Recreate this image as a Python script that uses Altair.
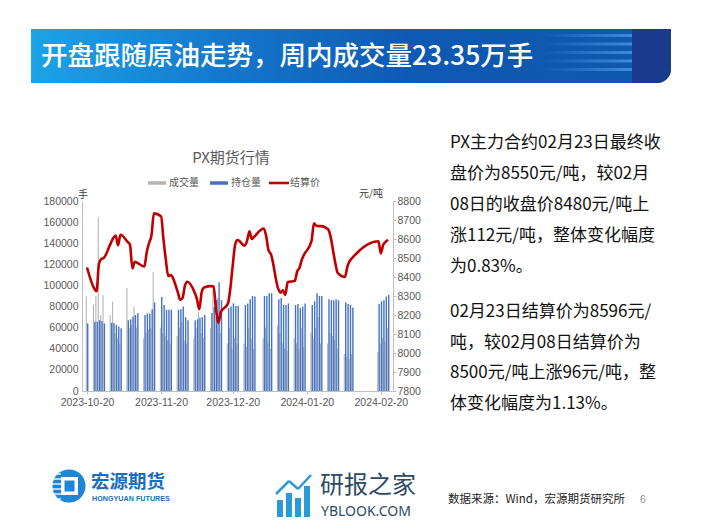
import altair as alt
import pandas as pd

# ---------------- data ----------------
dates = [
    "2023-10-20",
    "2023-10-23", "2023-10-24", "2023-10-25", "2023-10-26", "2023-10-27",
    "2023-10-30", "2023-10-31", "2023-11-01", "2023-11-02", "2023-11-03",
    "2023-11-06", "2023-11-07", "2023-11-08", "2023-11-09", "2023-11-10",
    "2023-11-13", "2023-11-14", "2023-11-15", "2023-11-16", "2023-11-17",
    "2023-11-20", "2023-11-21", "2023-11-22", "2023-11-23", "2023-11-24",
    "2023-11-27", "2023-11-28", "2023-11-29", "2023-11-30", "2023-12-01",
    "2023-12-04", "2023-12-05", "2023-12-06", "2023-12-07", "2023-12-08",
    "2023-12-11", "2023-12-12", "2023-12-13", "2023-12-14", "2023-12-15",
    "2023-12-18", "2023-12-19", "2023-12-20", "2023-12-21", "2023-12-22",
    "2023-12-25", "2023-12-26", "2023-12-27", "2023-12-28", "2023-12-29",
    "2024-01-02", "2024-01-03", "2024-01-04", "2024-01-05",
    "2024-01-08", "2024-01-09", "2024-01-10", "2024-01-11", "2024-01-12",
    "2024-01-15", "2024-01-16", "2024-01-17", "2024-01-18", "2024-01-19",
    "2024-01-22", "2024-01-23", "2024-01-24", "2024-01-25", "2024-01-26",
    "2024-01-29", "2024-01-30", "2024-01-31", "2024-02-01", "2024-02-02",
    "2024-02-05", "2024-02-06", "2024-02-07", "2024-02-08",
    "2024-02-19", "2024-02-20", "2024-02-21", "2024-02-22", "2024-02-23",
]

volume = [
    89500,
    81600, 90000, 165000, 72000, 91000,
    72000, 84500, 55000, 50000, 45000,
    97500, 60000, 62000, 80000, 60000,
    50000, 55000, 58000, 60000, 113000,
    60000, 55000, 52000, 48000, 45000,
    52000, 60000, 65000, 48000, 45000,
    50000, 60000, 75000, 55000, 50000,
    60000, 95000, 70000, 88000, 55000,
    45000, 60000, 40000, 50000, 45000,
    45000, 42000, 60000, 50000, 40000,
    50000, 60000, 45000, 40000,
    62000, 55000, 45000, 40000, 38000,
    50000, 45000, 40000, 60000, 42000,
    55000, 50000, 60000, 70000, 45000,
    45000, 55000, 52000, 48000, 40000,
    35000, 32000, 30000, 35000,
    37000, 45000, 50000, 47000, 60000,
]

open_interest = [
    64000,
    65500, 65500, 67000, 66000, 64000,
    64500, 64500, 62500, 61000, 59500,
    67000, 68000, 70500, 72000, 74000,
    72000, 73500, 73500, 77500, 84000,
    89000, 81500, 77000, 77000, 77000,
    77000, 77500, 80000, 70000, 67000,
    67000, 68000, 69500, 70000, 72000,
    74000, 80000, 86000, 103000, 86000,
    78500, 80000, 83000, 80500, 80500,
    81500, 83000, 87000, 90000, 89500,
    90000, 90000, 92500, 92500,
    87000, 88000, 81500, 81500, 83000,
    81500, 82500, 78500, 80000, 83000,
    81500, 85000, 92500, 90000, 90000,
    87000, 86000, 86000, 87000, 86000,
    84000, 82500, 81500, 79000,
    82500, 85000, 86000, 89500, 91000,
]

settle = [
    8450,
    8340, 8325, 8470, 8495, 8500,
    8580, 8605, 8618, 8567, 8622,
    8585, 8570, 8445, 8480, 8475,
    8455, 8530, 8580, 8620, 8735,
    8720, 8600, 8490, 8405, 8410,
    8320, 8280, 8290, 8355, 8375,
    8320, 8285, 8230, 8320, 8345,
    8352, 8350, 8230, 8160, 8215,
    8260, 8340, 8460, 8570, 8595,
    8565, 8590, 8640, 8600, 8612,
    8655, 8615, 8540, 8520,
    8340, 8318, 8330, 8305, 8372,
    8380, 8430, 8450, 8495, 8520,
    8590, 8682, 8670, 8668, 8668,
    8650, 8610, 8540, 8470, 8420,
    8400, 8455, 8485, 8500,
    8588, 8525, 8570, 8585, 8596,
]

left_ticks = [0, 20000, 40000, 60000, 80000, 100000, 120000, 140000, 160000, 180000]
right_ticks = [7800, 7900, 8000, 8100, 8200, 8300, 8400, 8500, 8600, 8700, 8800]
x_tick_dates = [(2023, 10, 20), (2023, 11, 20), (2023, 12, 20), (2024, 1, 20), (2024, 2, 20)]

headline = "开盘跟随原油走势，周内成交量23.35万手"
chart_title = "PX期货行情"
legend_names = ["成交量", "持仓量", "结算价"]
left_unit = "手"
right_unit = "元/吨"
body_lines = [
    "PX主力合约02月23日最终收",
    "盘价为8550元/吨，较02月",
    "08日的收盘价8480元/吨上",
    "涨112元/吨，整体变化幅度",
    "为0.83%。",
    "02月23日结算价为8596元/",
    "吨，较02月08日结算价为",
    "8500元/吨上涨96元/吨，整",
    "体变化幅度为1.13%。",
]
source_text = "数据来源：Wind，宏源期货研究所"
page_no = "6"
logo_cn = "宏源期货"
logo_en = "HONGYUAN FUTURES"
wm_cn = "研报之家"
wm_en = "YBLOOK.COM"

# ---------------- layout helpers ----------------
CJK = "Noto Sans CJK SC"
NUM = "Liberation Sans"
GRAY_TXT = "#595959"
AX_LINE = "#BFBFBF"
VOL_COLOR = "#B4B4B4"
OI_COLOR = "#4472C4"
PRICE_COLOR = "#C00000"

X0, Y0 = 82, 201          # plot-area origin in page pixels
PW, PH = 311, 190         # plot area size


def px(x):
    return x - X0


def py(y):
    return y - Y0


def one():
    return alt.Data(values=[{"k": 0}])


def text_layer(s, x, y, size, color, align="left", weight="normal", font=CJK):
    return alt.Chart(alt.Data(values=[{"t": s}])).mark_text(
        align=align, baseline="middle", fontSize=size, color=color,
        fontWeight=weight, font=font,
    ).encode(x=alt.value(px(x)), y=alt.value(py(y)), text="t:N")


def rect_layer(x1, y1, x2, y2, color, **kw):
    return alt.Chart(one()).mark_rect(color=color, **kw).encode(
        x=alt.value(px(x1)), x2=alt.value(px(x2)),
        y=alt.value(py(y1)), y2=alt.value(py(y2)),
    )


def rule_layer(x1, y1, x2, y2, color, width):
    return alt.Chart(one()).mark_rule(color=color, strokeWidth=width).encode(
        x=alt.value(px(x1)), x2=alt.value(px(x2)),
        y=alt.value(py(y1)), y2=alt.value(py(y2)),
    )


# ---------------- chart ----------------
df = pd.DataFrame({"date": dates, "vol": volume, "oi": open_interest, "settle": settle})


def dt(y, m, d):
    return alt.DateTime(year=y, month=m, date=d, utc=True)


xscale = alt.Scale(type="utc", domain=[dt(2023, 10, 20), dt(2024, 2, 23)])
xaxis = alt.Axis(
    values=[dt(*t) for t in x_tick_dates], format="%Y-%m-%d", title=None,
    labelFont=NUM, labelFontSize=10.5, labelColor=GRAY_TXT, labelPadding=3,
    labelFlush=False, labelOverlap=False, labelBound=False,
    domainColor=AX_LINE, tickColor=AX_LINE, tickSize=3, grid=False,
)
laxis = alt.Axis(
    values=left_ticks, format="d", title=None, grid=False, ticks=False,
    labelPadding=4, labelFont=NUM, labelFontSize=10.5, labelColor=GRAY_TXT,
    domainColor=AX_LINE,
)
raxis = alt.Axis(
    orient="right", values=right_ticks, format="d", title=None, grid=False,
    tickSize=3, tickColor=AX_LINE, labelPadding=1, labelFont=NUM,
    labelFontSize=10.5, labelColor=GRAY_TXT, domainColor=AX_LINE,
)
lscale = alt.Scale(domain=[0, 180000], nice=False, zero=True)
rscale = alt.Scale(domain=[7800, 8800], nice=False, zero=False)

bars_vol = alt.Chart(df).mark_bar(width=1.1, xOffset=-0.7, color=VOL_COLOR).encode(
    x=alt.X("date:T", scale=xscale, axis=xaxis),
    y=alt.Y("vol:Q", scale=lscale, axis=laxis),
)
bars_oi = alt.Chart(df).mark_bar(width=1.4, xOffset=0.7, color=OI_COLOR).encode(
    x=alt.X("date:T", scale=xscale, axis=xaxis),
    y=alt.Y("oi:Q", scale=lscale, axis=laxis),
)
bars = alt.layer(bars_vol, bars_oi)

line = alt.Chart(df).mark_line(color=PRICE_COLOR, strokeWidth=2.6, interpolate="monotone").encode(
    x=alt.X("date:T", scale=xscale, axis=xaxis),
    y=alt.Y("settle:Q", scale=rscale, axis=raxis),
)

deco = []

# headline banner
banner_grad = alt.LinearGradient(
    gradient="linear", x1=0, x2=1, y1=0, y2=0,
    stops=[
        alt.GradientStop(color="#1CA3E8", offset=0),
        alt.GradientStop(color="#1478CC", offset=0.3),
        alt.GradientStop(color="#0E59B2", offset=0.6),
        alt.GradientStop(color="#1157AE", offset=1),
    ],
)
deco.append(rect_layer(31, 29, 671, 83, banner_grad, cornerRadiusBottomRight=14))
stripe_grad = alt.LinearGradient(
    gradient="linear", x1=0, x2=1, y1=0, y2=0,
    stops=[
        alt.GradientStop(color="rgba(70,150,230,0)", offset=0),
        alt.GradientStop(color="rgba(70,150,230,0.85)", offset=1),
    ],
)
for sy in [34, 42.5, 51, 59.5, 68]:
    deco.append(rect_layer(540, sy, 634, sy + 3, stripe_grad))
deco.append(rect_layer(632, 29, 671, 83, "#1A3A8E", cornerRadiusBottomRight=14))
deco.append(text_layer(headline, 41, 57, 26.5, "#FFFFFF", weight=500))

# chart title, legend and units
deco.append(text_layer(chart_title, 231, 158, 15, GRAY_TXT, align="center"))
deco.append(rule_layer(148, 183, 166, 183, VOL_COLOR, 3.5))
deco.append(text_layer(legend_names[0], 169, 183, 10, GRAY_TXT))
deco.append(rule_layer(210, 183, 228, 183, OI_COLOR, 3.5))
deco.append(text_layer(legend_names[1], 231, 183, 10, GRAY_TXT))
deco.append(rule_layer(269, 183, 289, 183, PRICE_COLOR, 2.6))
deco.append(text_layer(legend_names[2], 290, 183, 10, GRAY_TXT))
deco.append(text_layer(left_unit, 83, 195, 10, "#404040", align="center"))
deco.append(text_layer(right_unit, 371, 194, 10, "#404040", align="center"))

# body text on the right
body_y = [143, 173.5, 204.5, 236, 267, 312, 342.5, 373, 403.5]
for s, yy in zip(body_lines, body_y):
    deco.append(text_layer(s, 450, yy, 17, "#111111"))

# footer: company logo
deco.append(alt.Chart(one()).mark_point(shape="circle", filled=True, size=1100, color="#1E86D4", opacity=1).encode(
    x=alt.value(px(69)), y=alt.value(py(486))))
deco.append(rect_layer(61, 477, 78, 495, "#FFFFFF"))
deco.append(rect_layer(64.5, 480.5, 74.5, 491.5, "#1E86D4"))
for ly in [474, 479, 484, 489, 494, 499]:
    deco.append(rule_layer(51, ly, 61, ly, "#FFFFFF", 1.3))
deco.append(text_layer(logo_cn, 91, 482, 18.5, "#1A6EC0", weight="bold"))
deco.append(text_layer(logo_en, 92, 498.5, 7.2, "#1A6EC0", weight="bold", font="Liberation Sans"))

# footer: watermark logo
for bx, top in [(277, 500), (286, 493), (295, 498), (304, 486)]:
    deco.append(rect_layer(bx, top, bx + 6, 517, "#2B9AD8"))
deco.append(rule_layer(276, 494, 289, 481, "#2B9AD8", 2.5))
deco.append(rule_layer(289, 481, 298, 489, "#2B9AD8", 2.5))
deco.append(rule_layer(298, 489, 311, 475, "#2B9AD8", 2.5))
deco.append(text_layer(wm_cn, 320, 486, 24, "#2D4B66"))
deco.append(text_layer(wm_en, 321, 511.5, 14, "#2D4B66", font="Noto Sans"))

# footer: source and page number
deco.append(text_layer(source_text, 448, 500, 11.5, "#222222"))
deco.append(text_layer(page_no, 640, 500, 10, "#8C8C8C", font=NUM))

TOTAL_W, TOTAL_H = 686, 516
chart = alt.layer(bars, line, *deco).resolve_scale(y="independent").properties(
    width=PW, height=PH,
    padding={"left": X0 - 8, "top": Y0 - 8,
             "right": TOTAL_W - (X0 - 8) - PW, "bottom": TOTAL_H - (Y0 - 8) - PH},
    autosize=alt.AutoSizeParams(type="none"),
    background="#FFFFFF",
).configure_view(stroke=None)

chart.save("out.html", embed_options={"renderer": "svg", "actions": False})
